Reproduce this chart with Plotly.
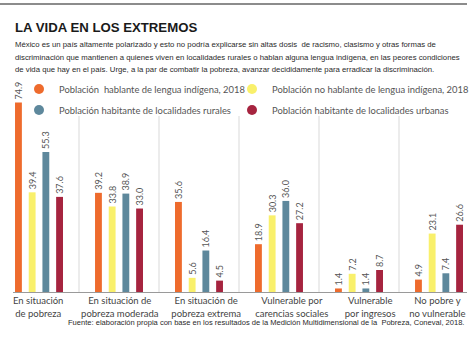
import plotly.graph_objects as go

# ---- data ----
categories = ["En situación<br>de pobreza", "En situación de<br>pobreza moderada",
              "En situación de<br>pobreza extrema", "Vulnerable por<br>carencias sociales",
              "Vulnerable<br>por ingresos", "No pobre y<br>no vulnerable"]
indigena = [74.9, 39.2, 35.6, 18.9, 1.4, 4.9]
no_indigena = [39.4, 33.8, 5.6, 30.3, 7.2, 23.1]
rurales = [55.3, 38.9, 16.4, 36.0, 1.4, 7.4]
urbanas = [37.6, 33.0, 4.5, 27.2, 8.7, 26.6]

series_names = ["Población  hablante de lengua indígena, 2018",
                "Población no hablante de lengua indígena, 2018",
                "Población habitante de localidades rurales",
                "Población habitante de localidades urbanas"]
series_values = [indigena, no_indigena, rurales, urbanas]
colors = ["#EE6B2D", "#F9F06B", "#5E889C", "#A6243F"]
legend_ids = ["legend", "legend2", "legend3", "legend4"]

title = "LA VIDA EN LOS EXTREMOS"
subtitle = ["México es un país altamente polarizado y esto no podría explicarse sin altas dosis  de racismo, clasismo y otras formas de",
            "discriminación que mantienen a quienes viven en localidades rurales o hablan alguna lengua indígena, en las peores condiciones",
            "de vida que hay en el país. Urge, a la par de combatir la pobreza, avanzar decididamente para erradicar la discriminación."]
source = "Fuente: elaboración propia con base en los resultados de la Medición Multidimensional de la  Pobreza, Coneval, 2018."

# ---- layout geometry (pixels) ----
W, H = 474, 355
ML, MR, MT, MB = 13, 7, 80, 63
PW, PH = W - ML - MR, H - MT - MB
YMAX = 83.8


def px_x(x):
    return (x - ML) / PW


def px_y(y):
    return (H - MB - y) / PH


SANS = "Liberation Sans, Arial, sans-serif"
BODY = "Lato, Open Sans, sans-serif"

x_pos = list(range(len(categories)))
# label placement as in the reference (labels sit slightly off the group centres)
label_shift = [-0.01, 0.01, 0.09, 0.16, 0.14, -0.02]
tick_pos = [p + s for p, s in zip(x_pos, label_shift)]

fig = go.Figure()
for name, vals, col in zip(series_names, series_values, colors):
    fig.add_trace(go.Bar(
        x=x_pos, y=vals, name=name, marker=dict(color=col, line=dict(width=0)),
        texttemplate="%{y:.1f}", textposition="outside", textangle=-90,
        textfont=dict(family=BODY, size=9, color="#555555"),
        constraintext="none", cliponaxis=False, showlegend=False,
    ))
for name, col, lg in zip(series_names, colors, legend_ids):
    fig.add_trace(go.Scatter(
        x=[None], y=[None], mode="markers", name=name, legend=lg,
        marker=dict(color=col, size=10, symbol="circle"),
    ))

# separators between groups
for i in range(len(categories) - 1):
    fig.add_shape(type="line", xref="x", yref="y", x0=i + 0.5, x1=i + 0.5,
                  y0=0, y1=(H - MB - 116) / PH * YMAX,
                  line=dict(color="#D9D9D9", width=1), layer="below")

# top rule (thin filled band)
fig.add_shape(type="rect", xref="paper", yref="paper", x0=px_x(0), x1=px_x(467),
              y0=px_y(5), y1=px_y(3), fillcolor="#8C8C8C", line=dict(width=0),
              layer="above")

ann = [dict(text=f"<b>{title}</b>", x=px_x(13), y=px_y(27), xanchor="left", yanchor="middle",
            font=dict(family=SANS, size=13.2, color="#1A1A1A"))]
for k, line in enumerate(subtitle):
    ann.append(dict(text=line, x=px_x(13), y=px_y(44.5 + 12.5 * k), xanchor="left", yanchor="middle",
                    font=dict(family=SANS, size=7.75, color="#2A2A2A")))
ann.append(dict(text=source, x=px_x(466), y=px_y(322), xanchor="right", yanchor="middle",
                font=dict(family=SANS, size=7.55, color="#2A2A2A")))
for a in ann:
    a.update(xref="paper", yref="paper", showarrow=False)

legend_common = dict(orientation="v", xanchor="left", yanchor="middle", indentation=-12,
                     bgcolor="rgba(0,0,0,0)",
                     font=dict(family=BODY, size=9.4, color="#555555"), itemsizing="trace")
legend_xy = [(31, 89), (244, 89), (31, 110), (244, 110)]
legend_layout = {lid: dict(x=px_x(lx), y=px_y(ly), **legend_common)
                 for lid, (lx, ly) in zip(legend_ids, legend_xy)}

fig.update_layout(
    width=W, height=H, margin=dict(l=ML, r=MR, t=MT, b=MB, autoexpand=False),
    paper_bgcolor="white", plot_bgcolor="white",
    barmode="group", bargap=0.315, bargroupgap=0.5,
    annotations=ann,
    xaxis=dict(range=[-0.325, 5.35], showline=True, linecolor="#9A9A9A",
               linewidth=1, ticks="", showgrid=False, zeroline=False,
               tickvals=tick_pos, ticktext=categories,
               tickfont=dict(family=BODY, size=9.5, color="#444444")),
    yaxis=dict(range=[0, YMAX], visible=False, showgrid=False, zeroline=False),
    **legend_layout,
)

fig.write_html("out.html", post_script="document.body.style.margin='0';",
               config={"displayModeBar": False})
